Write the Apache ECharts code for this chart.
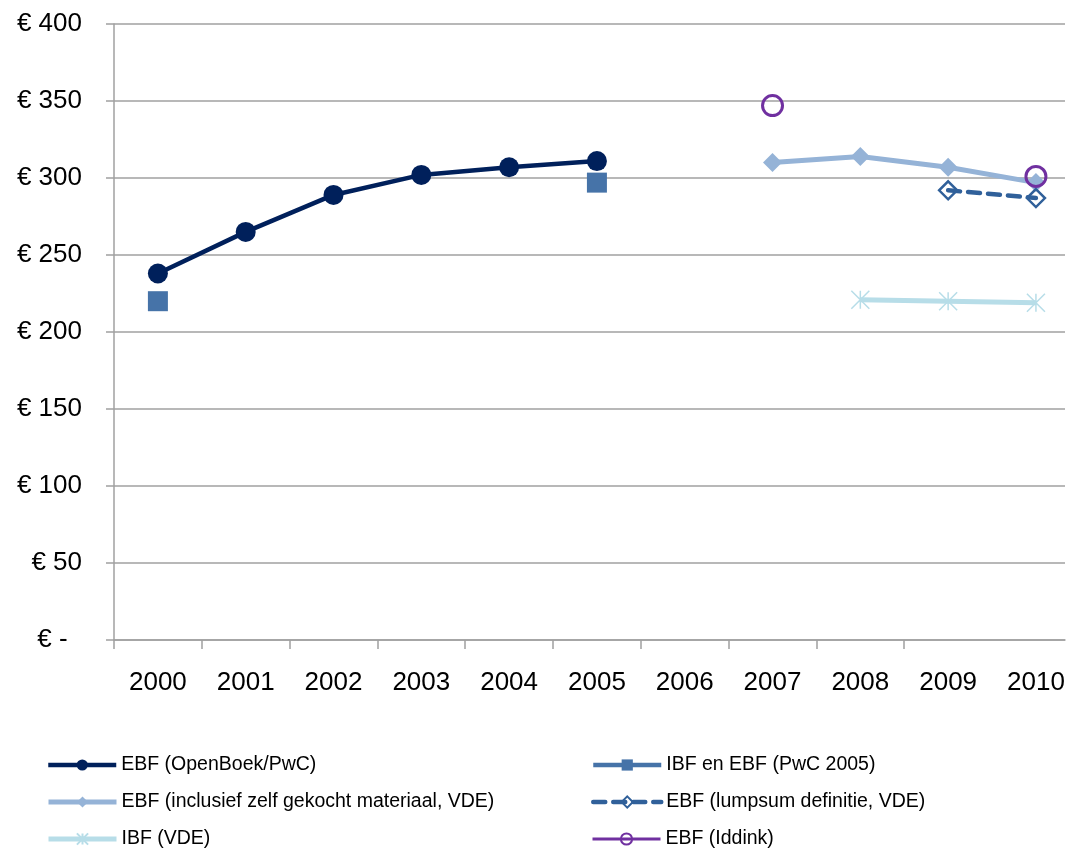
<!DOCTYPE html>
<html>
<head>
<meta charset="utf-8">
<script src="https://cdn.jsdelivr.net/npm/echarts@6/dist/echarts.min.js"></script>
<style>
  html, body { margin: 0; padding: 0; background: #ffffff; }
  #chart { width: 1078px; height: 848px; }
</style>
</head>
<body>
<div id="chart"></div>
<script>
// ---- data ----
const years = ['2000', '2001', '2002', '2003', '2004', '2005', '2006', '2007', '2008', '2009', '2010'];
const ebfOpenBoek   = [238, 265, 289, 302, 307, 311, null, null, null, null, null];
const ibfEbfPwc2005 = [220, null, null, null, null, 297, null, null, null, null, null];
const ebfInclusief  = [null, null, null, null, null, null, null, 310, 314, 307, 297];
const ebfLumpsum    = [null, null, null, null, null, null, null, null, null, 292, 287];
const ibfVde        = [null, null, null, null, null, null, null, null, 221, 220, 219];
const ebfIddink     = [null, null, null, null, null, null, null, 347, null, null, 301];
const seriesNames = [
  'EBF (OpenBoek/PwC)',
  'IBF en EBF (PwC 2005)',
  'EBF (inclusief zelf gekocht materiaal, VDE)',
  'EBF (lumpsum definitie, VDE)',
  'IBF (VDE)',
  'EBF (Iddink)'
];

const toPoints = arr => arr.map((v, i) => [i, v == null ? '-' : v]);
const idx = years.map((y, i) => i);
const bounds = years.slice(0, years.length - 1).map((y, i) => i - 0.5);

const FONT = "'Liberation Sans', Arial, sans-serif";
const AXIS = '#a0a0a0';

// legend slots: two columns, three rows (series order fills row by row)
const legendCols = [41, 586];
const legendRows = [750, 787, 824];
const legends = seriesNames.map((name, i) => ({
  orient: 'horizontal',
  left: legendCols[i % 2],
  top: legendRows[Math.floor(i / 2)],
  itemWidth: 68,
  itemHeight: 14,
  data: [name],
  lineStyle: { width: 'inherit' },
  textStyle: { fontSize: 19.5, color: '#000', fontFamily: FONT }
}));

const chart = echarts.init(document.getElementById('chart'), null, { renderer: 'canvas' });
chart.setOption({
  animation: false,
  backgroundColor: '#ffffff',
  textStyle: { fontFamily: FONT },
  grid: { left: 114, right: 13, top: 24, bottom: 208, containLabel: false },
  xAxis: {
    type: 'value',
    min: -0.5,
    max: 10.331,
    axisLine: { show: true, onZero: false, lineStyle: { color: AXIS, width: 1.5 } },
    axisTick: { show: true, length: 9, customValues: bounds, lineStyle: { color: AXIS, width: 1.5 } },
    axisLabel: {
      customValues: idx,
      formatter: v => years[Math.round(v)],
      margin: 30,
      fontSize: 26,
      color: '#000',
      fontFamily: FONT
    },
    splitLine: { show: false }
  },
  yAxis: {
    type: 'value',
    min: 0,
    max: 400,
    interval: 50,
    axisLine: { show: true, onZero: false, lineStyle: { color: AXIS, width: 1.5 } },
    axisTick: { show: true, length: 8, lineStyle: { color: AXIS, width: 1.5 } },
    axisLabel: {
      margin: 32,
      fontSize: 26,
      color: '#000',
      fontFamily: FONT,
      formatter: v => v === 0 ? '€ -  ' : '€ ' + v
    },
    splitLine: { show: true, lineStyle: { color: AXIS, width: 1.5 } }
  },
  legend: legends,
  series: [
    {
      name: seriesNames[0],
      type: 'line',
      data: toPoints(ebfOpenBoek),
      symbol: 'circle',
      symbolSize: 20,
      lineStyle: { color: '#00205b', width: 4.5 },
      itemStyle: { color: '#00205b' }
    },
    {
      name: seriesNames[1],
      type: 'line',
      data: toPoints(ibfEbfPwc2005),
      symbol: 'rect',
      symbolSize: 20,
      lineStyle: { color: '#4673a8', width: 4.5 },
      itemStyle: { color: '#4673a8' }
    },
    {
      name: seriesNames[2],
      type: 'line',
      data: toPoints(ebfInclusief),
      symbol: 'diamond',
      symbolSize: 19,
      lineStyle: { color: '#95b3d7', width: 5 },
      itemStyle: { color: '#95b3d7' }
    },
    {
      name: seriesNames[3],
      type: 'line',
      data: toPoints(ebfLumpsum),
      symbol: 'diamond',
      symbolSize: 18,
      lineStyle: { color: '#30609a', width: 4.5, type: [12, 8], cap: 'round' },
      itemStyle: { color: 'rgba(255,255,255,0)', borderColor: '#30609a', borderWidth: 2.5 }
    },
    {
      name: seriesNames[4],
      type: 'line',
      data: toPoints(ibfVde),
      symbol: 'path://M0,0L20,20M20,0L0,20M10,0L10,20',
      symbolSize: 18,
      lineStyle: { color: '#b7dde8', width: 5 },
      itemStyle: { color: '#b7dde8', borderColor: '#b7dde8', borderWidth: 1.5 }
    },
    {
      name: seriesNames[5],
      type: 'line',
      data: toPoints(ebfIddink),
      symbol: 'circle',
      symbolSize: 20,
      lineStyle: { color: '#7030a0', width: 3 },
      itemStyle: { color: 'rgba(255,255,255,0)', borderColor: '#7030a0', borderWidth: 3 }
    }
  ]
});
</script>
</body>
</html>
